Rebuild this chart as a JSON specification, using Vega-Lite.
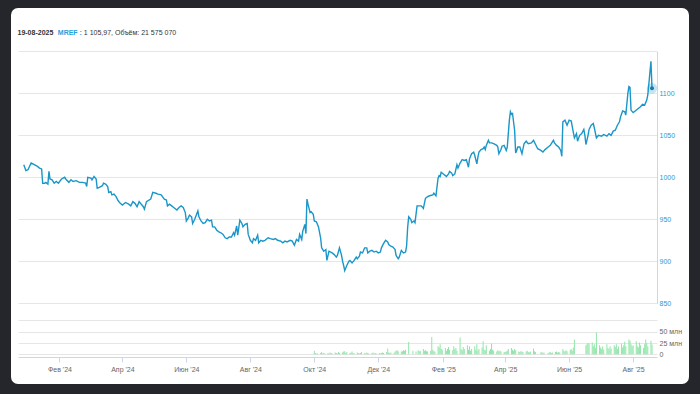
{
"$schema": "https://vega.github.io/schema/vega-lite/v6.json",
"width": 664,
"height": 362,
"autosize": {"type": "none"},
"padding": {"left": 18, "top": 15, "right": 18, "bottom": 17},
"background": "#25262c",
"config": {
  "font": "Liberation Sans",
  "view": {"fill": "#ffffff", "stroke": "#ffffff", "strokeWidth": 14, "strokeJoin": "round"}
},
"datasets": {
"price": [
{"date":"2023-12-29","close":1015},{"date":"2023-12-31","close":1008},{"date":"2024-01-02","close":1009},{"date":"2024-01-05","close":1017},{"date":"2024-01-08","close":1015},{"date":"2024-01-11","close":1013},{"date":"2024-01-13","close":1011},{"date":"2024-01-15","close":1010},{"date":"2024-01-16","close":993},{"date":"2024-01-18","close":993},{"date":"2024-01-19","close":994},{"date":"2024-01-21","close":992},{"date":"2024-01-22","close":1007},{"date":"2024-01-23","close":998},{"date":"2024-01-25","close":997},{"date":"2024-01-27","close":993},{"date":"2024-01-29","close":995},{"date":"2024-01-31","close":993},
{"date":"2024-02-03","close":998},{"date":"2024-02-06","close":1000},{"date":"2024-02-07","close":998},{"date":"2024-02-10","close":994},{"date":"2024-02-12","close":997},{"date":"2024-02-14","close":995},{"date":"2024-02-17","close":996},{"date":"2024-02-20","close":994},{"date":"2024-02-23","close":994},{"date":"2024-02-26","close":993},{"date":"2024-02-27","close":989},{"date":"2024-02-28","close":1000},
{"date":"2024-03-02","close":999},{"date":"2024-03-03","close":997},{"date":"2024-03-05","close":1001},{"date":"2024-03-07","close":998},{"date":"2024-03-08","close":987},{"date":"2024-03-10","close":988},{"date":"2024-03-13","close":990},{"date":"2024-03-14","close":993},{"date":"2024-03-16","close":992},{"date":"2024-03-18","close":989},{"date":"2024-03-19","close":982},{"date":"2024-03-21","close":983},{"date":"2024-03-22","close":979},{"date":"2024-03-24","close":980},{"date":"2024-03-26","close":977},{"date":"2024-03-28","close":972},{"date":"2024-03-30","close":969},
{"date":"2024-04-01","close":967},{"date":"2024-04-04","close":970},{"date":"2024-04-07","close":968},{"date":"2024-04-09","close":966},{"date":"2024-04-11","close":971},{"date":"2024-04-13","close":969},{"date":"2024-04-15","close":965},{"date":"2024-04-17","close":971},{"date":"2024-04-19","close":968},{"date":"2024-04-21","close":965},{"date":"2024-04-22","close":962},{"date":"2024-04-24","close":971},{"date":"2024-04-28","close":974},{"date":"2024-04-30","close":982},
{"date":"2024-05-03","close":981},{"date":"2024-05-05","close":980},{"date":"2024-05-08","close":979},{"date":"2024-05-11","close":974},{"date":"2024-05-13","close":973},{"date":"2024-05-14","close":966},{"date":"2024-05-16","close":968},{"date":"2024-05-18","close":966},{"date":"2024-05-20","close":964},{"date":"2024-05-23","close":961},{"date":"2024-05-25","close":964},{"date":"2024-05-27","close":966},{"date":"2024-05-29","close":964},{"date":"2024-05-31","close":958},
{"date":"2024-06-01","close":948},{"date":"2024-06-03","close":952},{"date":"2024-06-04","close":955},{"date":"2024-06-06","close":953},{"date":"2024-06-07","close":945},{"date":"2024-06-09","close":950},{"date":"2024-06-12","close":960},{"date":"2024-06-13","close":953},{"date":"2024-06-15","close":948},{"date":"2024-06-17","close":945},{"date":"2024-06-19","close":946},{"date":"2024-06-21","close":950},{"date":"2024-06-23","close":948},{"date":"2024-06-25","close":949},{"date":"2024-06-26","close":941},{"date":"2024-06-28","close":941},{"date":"2024-06-30","close":937},
{"date":"2024-07-02","close":935},{"date":"2024-07-04","close":934},{"date":"2024-07-06","close":932},{"date":"2024-07-08","close":928},{"date":"2024-07-10","close":927},{"date":"2024-07-12","close":929},{"date":"2024-07-14","close":929},{"date":"2024-07-16","close":934},{"date":"2024-07-17","close":931},{"date":"2024-07-19","close":942},{"date":"2024-07-20","close":931},{"date":"2024-07-22","close":949},{"date":"2024-07-24","close":945},{"date":"2024-07-25","close":941},{"date":"2024-07-27","close":944},{"date":"2024-07-29","close":945},{"date":"2024-07-30","close":932},
{"date":"2024-08-01","close":925},{"date":"2024-08-03","close":922},{"date":"2024-08-04","close":927},{"date":"2024-08-06","close":925},{"date":"2024-08-08","close":931},{"date":"2024-08-09","close":922},{"date":"2024-08-11","close":925},{"date":"2024-08-13","close":924},{"date":"2024-08-15","close":925},{"date":"2024-08-18","close":928},{"date":"2024-08-20","close":927},{"date":"2024-08-23","close":926},{"date":"2024-08-25","close":927},{"date":"2024-08-27","close":925},{"date":"2024-08-30","close":924},
{"date":"2024-09-01","close":922},{"date":"2024-09-03","close":924},{"date":"2024-09-05","close":923},{"date":"2024-09-08","close":925},{"date":"2024-09-10","close":924},{"date":"2024-09-12","close":919},{"date":"2024-09-14","close":926},{"date":"2024-09-16","close":924},{"date":"2024-09-17","close":932},{"date":"2024-09-19","close":926},{"date":"2024-09-20","close":936},{"date":"2024-09-22","close":944},{"date":"2024-09-23","close":933},{"date":"2024-09-24","close":974},{"date":"2024-09-25","close":968},{"date":"2024-09-27","close":958},{"date":"2024-09-28","close":959},{"date":"2024-09-30","close":956},
{"date":"2024-10-01","close":948},{"date":"2024-10-03","close":947},{"date":"2024-10-05","close":941},{"date":"2024-10-07","close":928},{"date":"2024-10-08","close":916},{"date":"2024-10-10","close":912},{"date":"2024-10-12","close":914},{"date":"2024-10-13","close":901},{"date":"2024-10-15","close":912},{"date":"2024-10-18","close":910},{"date":"2024-10-20","close":908},{"date":"2024-10-22","close":905},{"date":"2024-10-23","close":907},{"date":"2024-10-25","close":916},{"date":"2024-10-27","close":907},{"date":"2024-10-28","close":900},{"date":"2024-10-29","close":895},{"date":"2024-10-30","close":889},
{"date":"2024-11-01","close":895},{"date":"2024-11-03","close":900},{"date":"2024-11-04","close":901},{"date":"2024-11-06","close":898},{"date":"2024-11-08","close":901},{"date":"2024-11-10","close":905},{"date":"2024-11-11","close":903},{"date":"2024-11-13","close":906},{"date":"2024-11-14","close":911},{"date":"2024-11-16","close":910},{"date":"2024-11-18","close":916},{"date":"2024-11-20","close":916},{"date":"2024-11-21","close":910},{"date":"2024-11-23","close":912},{"date":"2024-11-25","close":913},{"date":"2024-11-27","close":911},{"date":"2024-11-29","close":912},
{"date":"2024-12-01","close":910},{"date":"2024-12-03","close":911},{"date":"2024-12-04","close":916},{"date":"2024-12-06","close":921},{"date":"2024-12-08","close":925},{"date":"2024-12-10","close":923},{"date":"2024-12-11","close":920},{"date":"2024-12-13","close":918},{"date":"2024-12-15","close":917},{"date":"2024-12-17","close":914},{"date":"2024-12-18","close":907},{"date":"2024-12-20","close":903},{"date":"2024-12-21","close":905},{"date":"2024-12-23","close":913},{"date":"2024-12-25","close":910},{"date":"2024-12-27","close":911},{"date":"2024-12-28","close":918},{"date":"2024-12-29","close":940},{"date":"2024-12-30","close":953},
{"date":"2025-01-01","close":950},{"date":"2025-01-02","close":946},{"date":"2025-01-04","close":948},{"date":"2025-01-05","close":946},{"date":"2025-01-07","close":966},{"date":"2025-01-08","close":966},{"date":"2025-01-11","close":966},{"date":"2025-01-13","close":963},{"date":"2025-01-15","close":975},{"date":"2025-01-17","close":977},{"date":"2025-01-19","close":978},{"date":"2025-01-22","close":979},{"date":"2025-01-23","close":981},{"date":"2025-01-25","close":978},{"date":"2025-01-27","close":999},{"date":"2025-01-28","close":1002},{"date":"2025-01-29","close":1001},{"date":"2025-01-30","close":1006},
{"date":"2025-02-01","close":1004},{"date":"2025-02-03","close":1002},{"date":"2025-02-04","close":1001},{"date":"2025-02-06","close":1004},{"date":"2025-02-07","close":1007},{"date":"2025-02-09","close":1005},{"date":"2025-02-10","close":1002},{"date":"2025-02-12","close":1004},{"date":"2025-02-14","close":1015},{"date":"2025-02-15","close":1011},{"date":"2025-02-17","close":1017},{"date":"2025-02-19","close":1021},{"date":"2025-02-21","close":1020},{"date":"2025-02-23","close":1021},{"date":"2025-02-25","close":1012},{"date":"2025-02-26","close":1022},{"date":"2025-02-28","close":1028},
{"date":"2025-03-02","close":1030},{"date":"2025-03-03","close":1026},{"date":"2025-03-05","close":1016},{"date":"2025-03-06","close":1024},{"date":"2025-03-07","close":1030},{"date":"2025-03-09","close":1033},{"date":"2025-03-11","close":1034},{"date":"2025-03-12","close":1036},{"date":"2025-03-13","close":1033},{"date":"2025-03-14","close":1038},{"date":"2025-03-16","close":1044},{"date":"2025-03-17","close":1041},{"date":"2025-03-19","close":1041},{"date":"2025-03-21","close":1040},{"date":"2025-03-24","close":1038},{"date":"2025-03-25","close":1036},{"date":"2025-03-26","close":1028},{"date":"2025-03-28","close":1033},{"date":"2025-03-29","close":1037},{"date":"2025-03-31","close":1038},
{"date":"2025-04-02","close":1032},{"date":"2025-04-03","close":1036},{"date":"2025-04-05","close":1068},{"date":"2025-04-06","close":1078},{"date":"2025-04-07","close":1075},{"date":"2025-04-08","close":1076},{"date":"2025-04-10","close":1056},{"date":"2025-04-11","close":1029},{"date":"2025-04-12","close":1032},{"date":"2025-04-13","close":1036},{"date":"2025-04-15","close":1036},{"date":"2025-04-17","close":1028},{"date":"2025-04-19","close":1040},{"date":"2025-04-21","close":1043},{"date":"2025-04-23","close":1040},{"date":"2025-04-26","close":1041},{"date":"2025-04-28","close":1044},{"date":"2025-04-30","close":1039},
{"date":"2025-05-02","close":1034},{"date":"2025-05-05","close":1032},{"date":"2025-05-07","close":1030},{"date":"2025-05-09","close":1033},{"date":"2025-05-12","close":1036},{"date":"2025-05-14","close":1038},{"date":"2025-05-17","close":1044},{"date":"2025-05-18","close":1041},{"date":"2025-05-20","close":1038},{"date":"2025-05-22","close":1036},{"date":"2025-05-24","close":1032},{"date":"2025-05-25","close":1025},{"date":"2025-05-26","close":1066},{"date":"2025-05-28","close":1068},{"date":"2025-05-30","close":1062},
{"date":"2025-06-01","close":1068},{"date":"2025-06-03","close":1067},{"date":"2025-06-04","close":1060},{"date":"2025-06-06","close":1047},{"date":"2025-06-08","close":1052},{"date":"2025-06-09","close":1043},{"date":"2025-06-11","close":1050},{"date":"2025-06-13","close":1052},{"date":"2025-06-15","close":1057},{"date":"2025-06-16","close":1050},{"date":"2025-06-17","close":1039},{"date":"2025-06-19","close":1050},{"date":"2025-06-20","close":1057},{"date":"2025-06-22","close":1062},{"date":"2025-06-24","close":1064},{"date":"2025-06-25","close":1059},{"date":"2025-06-27","close":1047},{"date":"2025-06-29","close":1050},
{"date":"2025-07-02","close":1049},{"date":"2025-07-04","close":1051},{"date":"2025-07-07","close":1049},{"date":"2025-07-09","close":1052},{"date":"2025-07-11","close":1050},{"date":"2025-07-13","close":1055},{"date":"2025-07-15","close":1056},{"date":"2025-07-17","close":1062},{"date":"2025-07-19","close":1066},{"date":"2025-07-20","close":1072},{"date":"2025-07-22","close":1079},{"date":"2025-07-24","close":1078},{"date":"2025-07-25","close":1074},{"date":"2025-07-27","close":1100},{"date":"2025-07-28","close":1108},{"date":"2025-07-29","close":1107},{"date":"2025-07-30","close":1080},
{"date":"2025-08-01","close":1077},{"date":"2025-08-03","close":1079},{"date":"2025-08-05","close":1081},{"date":"2025-08-08","close":1084},{"date":"2025-08-10","close":1087},{"date":"2025-08-12","close":1086},{"date":"2025-08-14","close":1092},{"date":"2025-08-15","close":1098},{"date":"2025-08-18","close":1138},{"date":"2025-08-19","close":1105.97}
],
"vol": [
{"date":"2024-10-01","volume":8e6},{"date":"2024-10-02","volume":3e6},{"date":"2024-10-03","volume":2e6},{"date":"2024-10-04","volume":2e6},{"date":"2024-10-07","volume":3e6},{"date":"2024-10-08","volume":5e6},{"date":"2024-10-09","volume":2e6},{"date":"2024-10-10","volume":3e6},{"date":"2024-10-11","volume":2e6},{"date":"2024-10-14","volume":3e6},{"date":"2024-10-15","volume":2e6},{"date":"2024-10-16","volume":4e6},{"date":"2024-10-17","volume":3e6},{"date":"2024-10-18","volume":2e6},{"date":"2024-10-21","volume":4e6},{"date":"2024-10-22","volume":3e6},{"date":"2024-10-23","volume":2e6},{"date":"2024-10-24","volume":5e6},{"date":"2024-10-25","volume":3e6},{"date":"2024-10-28","volume":4e6},{"date":"2024-10-29","volume":6e6},{"date":"2024-10-30","volume":7e6},{"date":"2024-10-31","volume":3e6},
{"date":"2024-11-01","volume":5e6},{"date":"2024-11-04","volume":3e6},{"date":"2024-11-05","volume":4e6},{"date":"2024-11-06","volume":6e6},{"date":"2024-11-07","volume":3e6},{"date":"2024-11-08","volume":2e6},{"date":"2024-11-11","volume":4e6},{"date":"2024-11-12","volume":3e6},{"date":"2024-11-13","volume":2e6},{"date":"2024-11-14","volume":3e6},{"date":"2024-11-15","volume":5e6},{"date":"2024-11-18","volume":3e6},{"date":"2024-11-19","volume":2e6},{"date":"2024-11-20","volume":4e6},{"date":"2024-11-21","volume":3e6},{"date":"2024-11-22","volume":2e6},{"date":"2024-11-25","volume":3e6},{"date":"2024-11-26","volume":4e6},{"date":"2024-11-27","volume":2e6},{"date":"2024-11-28","volume":3e6},{"date":"2024-11-29","volume":2e6},
{"date":"2024-12-02","volume":3e6},{"date":"2024-12-03","volume":2e6},{"date":"2024-12-04","volume":3e6},{"date":"2024-12-05","volume":4e6},{"date":"2024-12-06","volume":3e6},{"date":"2024-12-09","volume":5e6},{"date":"2024-12-10","volume":13e6},{"date":"2024-12-11","volume":4e6},{"date":"2024-12-12","volume":3e6},{"date":"2024-12-13","volume":4e6},{"date":"2024-12-16","volume":3e6},{"date":"2024-12-17","volume":6e6},{"date":"2024-12-18","volume":8e6},{"date":"2024-12-19","volume":9e6},{"date":"2024-12-20","volume":7e6},{"date":"2024-12-23","volume":6e6},{"date":"2024-12-24","volume":7e6},{"date":"2024-12-25","volume":9e6},{"date":"2024-12-26","volume":8e6},{"date":"2024-12-27","volume":10e6},{"date":"2024-12-30","volume":27e6},
{"date":"2025-01-03","volume":8e6},{"date":"2025-01-06","volume":6e6},{"date":"2025-01-08","volume":9e6},{"date":"2025-01-09","volume":7e6},{"date":"2025-01-10","volume":8e6},{"date":"2025-01-13","volume":12e6},{"date":"2025-01-14","volume":8e6},{"date":"2025-01-15","volume":9e6},{"date":"2025-01-16","volume":7e6},{"date":"2025-01-17","volume":6e6},{"date":"2025-01-20","volume":8e6},{"date":"2025-01-21","volume":38e6},{"date":"2025-01-22","volume":10e6},{"date":"2025-01-23","volume":7e6},{"date":"2025-01-24","volume":6e6},{"date":"2025-01-27","volume":18e6},{"date":"2025-01-28","volume":15e6},{"date":"2025-01-29","volume":22e6},{"date":"2025-01-30","volume":12e6},{"date":"2025-01-31","volume":10e6},
{"date":"2025-02-03","volume":14e6},{"date":"2025-02-04","volume":8e6},{"date":"2025-02-05","volume":12e6},{"date":"2025-02-06","volume":16e6},{"date":"2025-02-07","volume":10e6},{"date":"2025-02-10","volume":9e6},{"date":"2025-02-11","volume":18e6},{"date":"2025-02-12","volume":11e6},{"date":"2025-02-13","volume":14e6},{"date":"2025-02-14","volume":8e6},{"date":"2025-02-17","volume":37e6},{"date":"2025-02-18","volume":12e6},{"date":"2025-02-19","volume":9e6},{"date":"2025-02-20","volume":16e6},{"date":"2025-02-21","volume":12e6},{"date":"2025-02-24","volume":20e6},{"date":"2025-02-25","volume":10e6},{"date":"2025-02-26","volume":18e6},{"date":"2025-02-27","volume":8e6},{"date":"2025-02-28","volume":12e6},
{"date":"2025-03-03","volume":18e6},{"date":"2025-03-04","volume":10e6},{"date":"2025-03-05","volume":22e6},{"date":"2025-03-06","volume":8e6},{"date":"2025-03-07","volume":12e6},{"date":"2025-03-10","volume":15e6},{"date":"2025-03-11","volume":29e6},{"date":"2025-03-12","volume":10e6},{"date":"2025-03-13","volume":9e6},{"date":"2025-03-14","volume":20e6},{"date":"2025-03-17","volume":8e6},{"date":"2025-03-18","volume":12e6},{"date":"2025-03-19","volume":24e6},{"date":"2025-03-20","volume":10e6},{"date":"2025-03-21","volume":8e6},{"date":"2025-03-24","volume":6e6},{"date":"2025-03-25","volume":9e6},{"date":"2025-03-26","volume":7e6},{"date":"2025-03-27","volume":8e6},{"date":"2025-03-28","volume":6e6},{"date":"2025-03-31","volume":5e6},
{"date":"2025-04-01","volume":5e6},{"date":"2025-04-02","volume":6e6},{"date":"2025-04-03","volume":8e6},{"date":"2025-04-04","volume":12e6},{"date":"2025-04-07","volume":14e6},{"date":"2025-04-08","volume":10e6},{"date":"2025-04-09","volume":8e6},{"date":"2025-04-10","volume":12e6},{"date":"2025-04-11","volume":9e6},{"date":"2025-04-14","volume":6e6},{"date":"2025-04-15","volume":5e6},{"date":"2025-04-16","volume":7e6},{"date":"2025-04-17","volume":6e6},{"date":"2025-04-18","volume":5e6},{"date":"2025-04-21","volume":6e6},{"date":"2025-04-22","volume":8e6},{"date":"2025-04-23","volume":5e6},{"date":"2025-04-24","volume":4e6},{"date":"2025-04-25","volume":6e6},{"date":"2025-04-28","volume":13e6},{"date":"2025-04-29","volume":7e6},{"date":"2025-04-30","volume":5e6},
{"date":"2025-05-05","volume":4e6},{"date":"2025-05-06","volume":5e6},{"date":"2025-05-07","volume":3e6},{"date":"2025-05-08","volume":4e6},{"date":"2025-05-12","volume":3e6},{"date":"2025-05-13","volume":4e6},{"date":"2025-05-14","volume":5e6},{"date":"2025-05-15","volume":3e6},{"date":"2025-05-16","volume":4e6},{"date":"2025-05-19","volume":5e6},{"date":"2025-05-20","volume":6e6},{"date":"2025-05-21","volume":4e6},{"date":"2025-05-22","volume":5e6},{"date":"2025-05-23","volume":4e6},{"date":"2025-05-26","volume":12e6},{"date":"2025-05-27","volume":8e6},{"date":"2025-05-28","volume":6e6},{"date":"2025-05-29","volume":9e6},{"date":"2025-05-30","volume":7e6},
{"date":"2025-06-02","volume":10e6},{"date":"2025-06-03","volume":12e6},{"date":"2025-06-04","volume":8e6},{"date":"2025-06-05","volume":15e6},{"date":"2025-06-06","volume":33e6},{"date":"2025-06-17","volume":20e6},{"date":"2025-06-18","volume":22e6},{"date":"2025-06-19","volume":25e6},{"date":"2025-06-20","volume":24e6},{"date":"2025-06-23","volume":26e6},{"date":"2025-06-24","volume":18e6},{"date":"2025-06-25","volume":22e6},{"date":"2025-06-26","volume":14e6},{"date":"2025-06-27","volume":48e6},{"date":"2025-06-30","volume":20e6},
{"date":"2025-07-01","volume":15e6},{"date":"2025-07-02","volume":12e6},{"date":"2025-07-03","volume":18e6},{"date":"2025-07-04","volume":10e6},{"date":"2025-07-07","volume":22e6},{"date":"2025-07-08","volume":14e6},{"date":"2025-07-09","volume":11e6},{"date":"2025-07-10","volume":18e6},{"date":"2025-07-11","volume":13e6},{"date":"2025-07-14","volume":20e6},{"date":"2025-07-15","volume":16e6},{"date":"2025-07-16","volume":22e6},{"date":"2025-07-17","volume":12e6},{"date":"2025-07-18","volume":17e6},{"date":"2025-07-21","volume":24e6},{"date":"2025-07-22","volume":15e6},{"date":"2025-07-23","volume":20e6},{"date":"2025-07-24","volume":28e6},{"date":"2025-07-25","volume":18e6},{"date":"2025-07-28","volume":33e6},{"date":"2025-07-29","volume":30e6},{"date":"2025-07-30","volume":22e6},{"date":"2025-07-31","volume":18e6},
{"date":"2025-08-01","volume":20e6},{"date":"2025-08-04","volume":29e6},{"date":"2025-08-05","volume":18e6},{"date":"2025-08-06","volume":15e6},{"date":"2025-08-07","volume":26e6},{"date":"2025-08-08","volume":20e6},{"date":"2025-08-11","volume":14e6},{"date":"2025-08-12","volume":22e6},{"date":"2025-08-13","volume":33e6},{"date":"2025-08-14","volume":25e6},{"date":"2025-08-15","volume":18e6},{"date":"2025-08-18","volume":30e6},{"date":"2025-08-19","volume":21575070}
]
},
"encoding": {
  "x": {
    "field": "date", "type": "temporal",
    "scale": {"type": "utc", "nice": false, "range": [0, 639],
      "domain": [{"year": 2023, "month": 12, "date": 28, "hours": 6, "utc": true}, {"year": 2025, "month": 8, "date": 19, "utc": true}]},
    "axis": {
      "orient": "bottom", "offset": -20, "grid": false,
      "values": [
        {"year": 2024, "month": 2, "date": 1, "utc": true}, {"year": 2024, "month": 4, "date": 1, "utc": true},
        {"year": 2024, "month": 6, "date": 1, "utc": true}, {"year": 2024, "month": 8, "date": 1, "utc": true},
        {"year": 2024, "month": 10, "date": 1, "utc": true}, {"year": 2024, "month": 12, "date": 1, "utc": true},
        {"year": 2025, "month": 2, "date": 1, "utc": true}, {"year": 2025, "month": 4, "date": 1, "utc": true},
        {"year": 2025, "month": 6, "date": 1, "utc": true}, {"year": 2025, "month": 8, "date": 1, "utc": true}
      ],
      "labelExpr": "['Янв','Фев','Мар','Апр','Май','Июн','Июл','Авг','Сен','Окт','Ноя','Дек'][utcmonth(datum.value)] + \" '\" + utcFormat(datum.value, '%y')",
      "labelColor": "#666666", "labelFontSize": 7, "labelPadding": 3, "labelOverlap": false, "labelFlush": false,
      "domain": true, "domainColor": "#ccd6eb", "ticks": true, "tickColor": "#ccd6eb", "tickSize": 5,
      "title": "1 105,97, Объём: 21 575 070", "titleX": 65.3, "titleY": -324.3, "titleAlign": "left", "titleBaseline": "middle",
      "titleFontWeight": "normal", "titleFontSize": 7, "titleColor": "#333333"
    }
  }
},
"layer": [
  {
    "data": {"name": "price"},
    "layer": [
      {
        "mark": {"type": "line", "color": "#1a96c8", "strokeWidth": 1.4},
        "encoding": {
          "y": {
            "field": "close", "type": "quantitative",
            "scale": {"domain": [850, 1150], "range": [288.3, 36.3], "nice": false, "zero": false},
            "axis": {
              "orient": "left", "values": [850, 900, 950, 1000, 1050, 1100, 1150],
              "grid": true, "gridColor": "#e6e6e6", "domain": false, "ticks": false, "labels": false, "title": null
            }
          }
        }
      },
      {
        "transform": [{"filter": "datum.close == 1105.97"}],
        "encoding": {
          "y": {
            "field": "close", "type": "quantitative",
            "scale": {"domain": [850, 1150], "range": [288.3, 36.3], "nice": false, "zero": false},
            "axis": {
              "orient": "right", "offset": -25, "values": [850, 900, 950, 1000, 1050, 1100], "format": "d",
              "grid": false, "domain": true, "domainColor": "#ccd6eb", "ticks": false,
              "labelColor": "#2b9bd0", "labelFontSize": 7, "labelPadding": 2,
              "title": "MREF :", "titleAngle": 0, "titleX": -599.7, "titleY": 17.7, "titleAlign": "left", "titleBaseline": "middle",
              "titleColor": "#2a9fd8", "titleFontSize": 7, "titleFontWeight": "bold"
            }
          }
        },
        "layer": [
          {"mark": {"type": "point", "filled": true, "size": 110, "color": "#1a96c8", "opacity": 0.25}},
          {"mark": {"type": "point", "filled": true, "size": 16, "color": "#1a78ad", "opacity": 1}}
        ]
      }
    ],
    "resolve": {"axis": {"y": "independent"}}
  },
  {
    "data": {"name": "vol"},
    "mark": {"type": "bar", "color": "#90e6a8", "size": 1},
    "encoding": {
      "y": {
        "field": "volume", "type": "quantitative",
        "scale": {"domain": [0, 75000000], "range": [339.3, 305.4], "nice": false, "zero": true},
        "axis": {
          "orient": "left", "values": [0, 25000000, 50000000, 75000000],
          "labelExpr": "datum.value == 0 ? '0' : datum.value >= 75000000 ? '' : format(datum.value / 1000000, 'd') + ' млн'",
          "grid": true, "gridColor": "#e6e6e6", "domain": false, "ticks": false, "tickSize": 0,
          "labelAlign": "left", "labelPadding": -641,
          "labelColor": "#666666", "labelFontSize": 7,
          "title": "19-08-2025", "titleAngle": 0, "titleX": -1, "titleY": 17.7, "titleAlign": "left", "titleBaseline": "middle",
          "titleColor": "#333333", "titleFontSize": 7, "titleFontWeight": "bold"
        }
      }
    }
  }
],
"resolve": {"scale": {"y": "independent"}}
}
